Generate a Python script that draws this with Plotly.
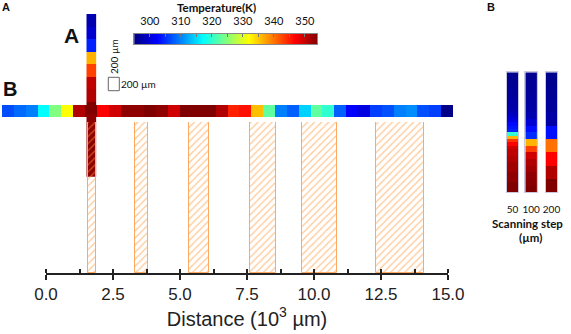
import plotly.graph_objects as go
import numpy as np

W, H = 571, 334
ZMIN, ZMAX = 295, 354

# ---------------- data ----------------
# temperature (K) along line B (38 cells of 200 µm, left -> right)
strip_B_temps = [306.8, 308.5, 309.8, 317.1, 324.5, 331.9, 351.2, 354.0, 346.6, 349.3,
                 353.1, 353.1, 354.0, 353.1, 349.3, 354.0, 354.0, 354.0, 351.2, 344.8,
                 345.7, 335.6, 322.7, 309.7, 307.9, 314.5, 322.7, 319.9, 307.9, 302.4,
                 300.6, 306.0, 307.0, 309.7, 310.6, 307.0, 306.0, 295.5]
# temperature (K) along line A (13 cells, top -> bottom)
strip_A_temps = [297.8, 299.7, 304.2, 336.3, 342.9, 350.3, 351.2, 354.0, 353.1, 353.1,
                 353.5, 353.1, 353.1]
# groove positions (10^3 µm)
groove_left = [1.57, 3.32, 5.34, 7.60, 9.56, 12.33]
groove_right = [1.87, 3.81, 6.08, 8.58, 10.84, 14.10]
dist_ticks = [0, 2.5, 5, 7.5, 10, 12.5, 15]
dist_tick_labels = ["0.0", "2.5", "5.0", "7.5", "10.0", "12.5", "15.0"]
cbar_ticks = [300, 310, 320, 330, 340, 350]
cbar_tick_labels = ["300", "310", "320", "330", "340", "350"]
# panel B: scanning steps (µm) and temperature columns (top -> bottom)
steps = [50, 100, 200]
step_labels = ["50", "100", "200"]
col_50 = [295.8, 296.0, 296.0, 296.2, 296.3, 296.5, 296.5, 296.8, 297.0, 297.2,
          297.5, 297.8, 298.5, 299.9, 300.6, 302.8, 303.5, 304.2, 319.9, 336.0,
          343.5, 346.6, 349.3, 350.3, 350.3, 351.2, 351.2, 352.1, 352.1, 352.1,
          353.1, 353.1, 353.1, 354.0, 354.0, 354.0]
col_100 = [296.0, 296.2, 296.4, 296.6, 296.9, 297.2, 297.8, 299.9, 303.0, 304.8,
           336.3, 342.9, 349.3, 351.2, 352.1, 353.1, 353.5, 354.0]
col_200 = [295.9, 296.2, 296.5, 297.2, 303.3, 340.1, 346.6, 351.2, 354.0]
columns = [col_50, col_100, col_200]

jet = [[0.0, 'rgb(0,0,128)'], [0.125, 'rgb(0,0,255)'], [0.375, 'rgb(0,255,255)'],
       [0.625, 'rgb(255,255,0)'], [0.875, 'rgb(255,0,0)'], [1.0, 'rgb(128,0,0)']]


def px(x):
    return x / W


def py(y):
    return 1 - y / H


LAB = "Lato, 'Open Sans', sans-serif"
ARI = "'Liberation Sans', Arial, sans-serif"

fig = go.Figure()

hm = dict(zmin=ZMIN, zmax=ZMAX, colorscale=jet, showscale=False, hoverinfo='skip')

# line B strip
fig.add_trace(go.Heatmap(z=[strip_B_temps], x=list(range(len(strip_B_temps))), y=[0],
                         xaxis='x', yaxis='y', **hm))
# line A strip
fig.add_trace(go.Heatmap(z=[[v] for v in strip_A_temps], x=[0],
                         y=list(range(len(strip_A_temps))), xaxis='x2', yaxis='y2', **hm))
# grooves
centers = [(l + r) / 2 for l, r in zip(groove_left, groove_right)]
widths = [r - l for l, r in zip(groove_left, groove_right)]
fig.add_trace(go.Bar(x=centers, y=[1] * len(centers), width=widths, xaxis='x3', yaxis='y3',
                     marker=dict(color='rgba(0,0,0,0)',
                                 line=dict(color='#ffa860', width=1),
                                 pattern=dict(shape='/', fgcolor='#ff9838',
                                              bgcolor='rgba(0,0,0,0)', size=5, solidity=0.28)),
                     hoverinfo='skip'))
# colour scale
cb_vals = np.linspace(ZMIN, ZMAX, 256)
fig.add_trace(go.Heatmap(z=[cb_vals], x=cb_vals, y=[0], xaxis='x4', yaxis='y4', **hm))

# panel B columns
col_domains = [(506.7, 518.3), (525.3, 536.9), (545.7, 557.3)]
for i, (step, col) in enumerate(zip(steps, columns)):
    n = i + 5
    fig.add_trace(go.Heatmap(z=[[v] for v in col], x=[0],
                             y=[step * (k + 0.5) for k in range(len(col))],
                             xaxis=f'x{n}', yaxis=f'y{n}', **hm))

hidden = dict(visible=False, showgrid=False, zeroline=False)
layout = dict(
    width=W, height=H, margin=dict(l=0, r=0, t=0, b=0, autoexpand=False),
    paper_bgcolor='white', plot_bgcolor='rgba(0,0,0,0)', showlegend=False,
    xaxis=dict(domain=[px(2), px(453)], range=[-0.5, len(strip_B_temps) - 0.5], anchor='y', **hidden),
    yaxis=dict(domain=[py(117), py(105)], range=[-0.5, 0.5], anchor='x', **hidden),
    xaxis2=dict(domain=[px(86.3), px(96.5)], range=[-0.5, 0.5], anchor='y2', **hidden),
    yaxis2=dict(domain=[py(176.7), py(14)], range=[len(strip_A_temps) - 0.5, -0.5], anchor='x2', **hidden),
    xaxis3=dict(domain=[px(46), px(448)], range=[0, 15], anchor='y3', layer='above traces',
                showline=True, linecolor='#222', linewidth=1.5,
                showgrid=False, zeroline=False, automargin=False,
                tickvals=dist_ticks, ticktext=dist_tick_labels,
                ticks='outside', ticklen=5, tickwidth=1.5, tickcolor='#222',
                minor=dict(ticks='inside', dtick=1.25, tick0=0, ticklen=4, tickwidth=1.5, tickcolor='#222'),
                tickfont=dict(family=ARI, size=17, color='#222'),
                title=dict(text='Distance (10<sup>3</sup> µm)', font=dict(family=ARI, size=20, color='#222'),
                           standoff=6)),
    yaxis3=dict(domain=[py(273), py(122)], range=[0, 1], anchor='x3', **hidden),
    xaxis4=dict(domain=[px(134.3), px(317.3)], range=[ZMIN, ZMAX], anchor='y4', side='top',
                showline=True, mirror=True, linecolor='#888', linewidth=1,
                showgrid=False, zeroline=False, automargin=False,
                tickvals=cbar_ticks, ticktext=cbar_tick_labels,
                ticks='inside', ticklen=3, tickcolor='#777',
                minor=dict(ticks='inside', dtick=5, tick0=300, ticklen=3, tickcolor='#777'),
                tickfont=dict(family=LAB, size=11, color='#111'), ticklabelstandoff=4),
    yaxis4=dict(domain=[py(44), py(34)], range=[-0.5, 0.5], anchor='x4',
                showline=True, mirror=True, linecolor='#888', linewidth=1, automargin=False,
                showticklabels=False, ticks='', showgrid=False, zeroline=False),
    bargap=0,
)
for i, (step, col) in enumerate(zip(steps, columns)):
    n = i + 5
    d0, d1 = col_domains[i]
    layout[f'xaxis{n}'] = dict(domain=[px(d0), px(d1)], range=[-0.5, 0.5], anchor=f'y{n}',
                               showline=True, mirror=True, linecolor='#c8c8e0', linewidth=1,
                               showgrid=False, zeroline=False, automargin=False,
                               tickvals=[0], ticktext=[step_labels[i]], ticks='',
                               tickfont=dict(family=LAB, size=10, color='#111'),
                               ticklabelstandoff=8)
    layout[f'yaxis{n}'] = dict(domain=[py(192.3), py(72.3)], range=[len(col) * step, 0], anchor=f'x{n}',
                               showline=True, mirror=True, linecolor='#c8c8e0', linewidth=1,
                               automargin=False,
                               showticklabels=False, ticks='', showgrid=False, zeroline=False)
fig.update_layout(**layout)

ann = []


def add_text(x, y, text, size, bold=False, family=LAB, angle=0, color='#111'):
    ann.append(dict(x=px(x), y=py(y), xref='paper', yref='paper', text=f'<b>{text}</b>' if bold else text,
                    showarrow=False, xanchor='center', yanchor='middle', textangle=angle,
                    font=dict(family=family, size=size, color=color)))


add_text(6, 7.5, 'A', 11, bold=True, family=ARI)
add_text(490.7, 7.5, 'B', 11, bold=True, family=ARI)
add_text(71, 36, 'A', 21, bold=True, family=ARI)
add_text(10, 88.5, 'B', 20, bold=True, family=ARI)
add_text(216.7, 7.5, 'Temperature(K)', 11.5, bold=True)
add_text(114, 56, '200 µm', 10, angle=-90)
add_text(138.5, 84, '200 µm', 10)
add_text(527, 223, 'Scanning step', 11.5, bold=True)
add_text(530, 237.5, '(µm)', 11.5, bold=True)
fig.update_layout(annotations=ann)

fig.add_shape(type='rect', xref='paper', yref='paper', x0=px(108.3), x1=px(119.3),
              y0=py(90.7), y1=py(77.3), line=dict(color='#666', width=1), fillcolor='rgba(0,0,0,0)')

fig.write_html("out.html", config={'displayModeBar': False},
               post_script="document.body.style.margin='0';document.body.style.overflow='hidden';")
